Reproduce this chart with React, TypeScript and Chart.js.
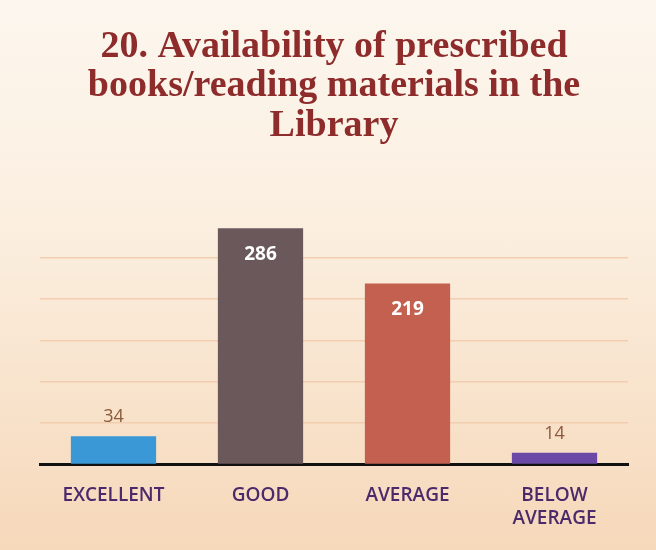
import React, { useEffect, useRef } from "react";
import { Chart, registerables } from "chart.js";

Chart.register(...registerables);

const categories: (string | string[])[] = ["EXCELLENT", "GOOD", "AVERAGE", ["BELOW", "AVERAGE"]];
const responses: number[] = [34, 286, 219, 14];
const barColors: string[] = ["#3b98d6", "#6b585b", "#c4604f", "#6a4aa6"];
const titleLines: string[] = ["20. Availability of prescribed", "books/reading materials in the", "Library"];

const valueLabels = {
  id: "valueLabels",
  afterDatasetsDraw(chart: any) {
    const ctx = chart.ctx;
    const meta = chart.getDatasetMeta(0);
    ctx.save();
    ctx.textAlign = "center";
    meta.data.forEach((bar: any, i: number) => {
      const v = responses[i];
      const inside = v > 100;
      ctx.font = inside ? "bold 19px 'Open Sans'" : "18px 'Open Sans'";
      ctx.fillStyle = inside ? "#ffffff" : "#8a5a3c";
      ctx.textBaseline = "middle";
      const y = inside ? bar.y + 26 : bar.y - 19;
      ctx.fillText(String(v), bar.x, y);
    });
    ctx.restore();
  },
};

export default function App() {
  const ref = useRef<HTMLCanvasElement>(null);
  useEffect(() => {
    document.body.style.margin = "0";
    const chart = new Chart(ref.current!, {
      type: "bar",
      data: {
        labels: categories,
        datasets: [
          {
            data: responses,
            backgroundColor: barColors,
            borderWidth: 0,
            categoryPercentage: 0.58,
            barPercentage: 1,
          },
        ],
      },
      options: {
        animation: false,
        responsive: false,
        layout: { padding: { left: 40, right: 28, top: 0, bottom: 8 } },
        plugins: {
          legend: { display: false },
          tooltip: { enabled: false },
          title: {
            display: true,
            text: titleLines,
            color: "#8e2c2c",
            font: { family: "'Liberation Serif'", size: 38, weight: "bold", lineHeight: 1.04 },
            padding: { top: 27, bottom: 71 },
          },
        },
        scales: {
          x: {
            grid: { display: false },
            border: { color: "#111111", width: 3 },
            ticks: {
              color: "#4b2a6b",
              font: { family: "'Open Sans'", size: 19, weight: 600 },
              padding: 12,
              maxRotation: 0,
            },
          },
          y: {
            min: 0,
            max: 300,
            ticks: { display: false, stepSize: 50 },
            border: { display: false },
            grid: {
              drawTicks: false,
              color: (c: any) => (c.tick && c.tick.value > 0 && c.tick.value < 300 ? "#f2cdb0" : "rgba(0,0,0,0)"),
              lineWidth: 1.5,
            },
            afterFit: (s: any) => {
              s.width = 0;
            },
          },
        },
      },
      plugins: [valueLabels],
    });
    return () => chart.destroy();
  }, []);
  return (
    <div
      style={{
        position: "fixed",
        left: 0,
        top: 0,
        width: 656,
        height: 550,
        background: "linear-gradient(180deg, #fcf6ee 0%, #fbefe0 40%, #f6d8ba 100%)",
      }}
    >
      <canvas ref={ref} width={656} height={550} />
    </div>
  );
}
